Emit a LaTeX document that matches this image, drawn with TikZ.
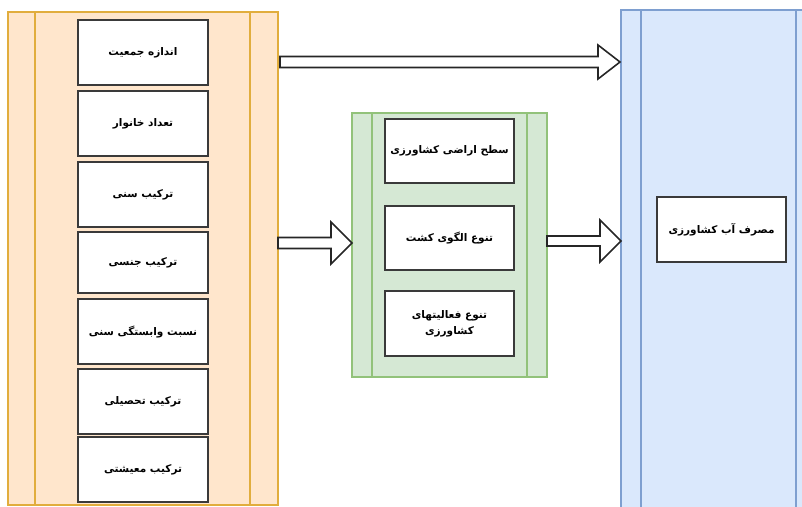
\documentclass[tikz,border=0pt]{standalone}
\usepackage{fontspec}
\newfontfamily\arabicfont[Script=Arabic]{DejaVu Sans}
\TeXXeTstate=1
\usetikzlibrary{calc}
\definecolor{orfill}{HTML}{FFE6CC}
\definecolor{ordraw}{HTML}{E1AD3D}
\definecolor{grfill}{HTML}{D5E8D4}
\definecolor{grdraw}{HTML}{92C27A}
\definecolor{blfill}{HTML}{DAE8FC}
\definecolor{bldraw}{HTML}{7E9FD0}
\definecolor{boxdraw}{HTML}{3A3A3A}
\newcommand\fa[1]{\beginR #1\endR}
\newcommand\blockarrow[5]{%
  \draw[barrow] ($(#1)+(0,-#3)$) -- ($(#2)+(-#5,-#3)$) -- ($(#2)+(-#5,-#4)$) -- (#2)
     -- ($(#2)+(-#5,#4)$) -- ($(#2)+(-#5,#3)$) -- ($(#1)+(0,#3)$) -- cycle;}
\begin{document}
\begin{tikzpicture}[x=1pt,y=-1pt,
  container/.style={draw=#1draw, fill=#1fill, line width=1.3pt, anchor=north west, inner sep=0pt, outer sep=0pt},
  lane/.style={draw=#1draw, line width=1.3pt},
  itembox/.style={draw=boxdraw, line width=1.6pt, fill=white, anchor=north west, inner sep=0pt, outer sep=0pt,
    minimum width=130pt, minimum height=65pt, align=center,
    font=\arabicfont\bfseries\fontsize{10.5}{16}\selectfont},
  barrow/.style={draw=black!85, line width=1.6pt, fill=white, line join=miter}]
\useasboundingbox (0,0) rectangle (802,506);
\clip (0,0) rectangle (802,506);
% containers
\node[container=or, minimum width=270pt, minimum height=493pt] (orange) at (8,12) {};
\draw[lane=or] ($(orange.north west)+(27,0)$) -- ($(orange.south west)+(27,0)$);
\draw[lane=or] ($(orange.north east)+(-28,0)$) -- ($(orange.south east)+(-28,0)$);
\node[container=gr, minimum width=195pt, minimum height=264pt] (green) at (352,113) {};
\draw[lane=gr] ($(green.north west)+(20,0)$) -- ($(green.south west)+(20,0)$);
\draw[lane=gr] ($(green.north east)+(-20,0)$) -- ($(green.south east)+(-20,0)$);
\node[container=bl, minimum width=200pt, minimum height=510pt] (blue) at (621,10) {};
\draw[lane=bl] ($(blue.north west)+(20,0)$) -- ($(blue.south west)+(20,0)$);
\draw[lane=bl] ($(blue.north west)+(175,0)$) -- ($(blue.south west)+(175,0)$);
% arrows
\coordinate (a1s) at ($(orange.north east)+(2,50)$);
\coordinate (a1t) at ($(blue.west |- a1s)+(-1,0)$);
\blockarrow{a1s}{a1t}{5.5}{17}{22}
\coordinate (a2s) at ($(orange.north east)+(0,231)$);
\coordinate (a2t) at (green.west |- a2s);
\blockarrow{a2s}{a2t}{5.5}{21}{21}
\coordinate (a3s) at ($(green.north east)+(0,128)$);
\coordinate (a3t) at (blue.west |- a3s);
\blockarrow{a3s}{a3t}{5}{21}{21}
% orange items
\node[itembox] (o1) at (78,20) {\fa{اندازه جمعیت}};
\node[itembox] (o2) at (78,91) {\fa{تعداد خانوار}};
\node[itembox] (o3) at (78,162) {\fa{ترکیب سنی}};
\node[itembox, minimum height=61pt] (o4) at (78,232) {\fa{ترکیب جنسی}};
\node[itembox] (o5) at (78,299) {\fa{نسبت وابستگی سنی}};
\node[itembox] (o6) at (78,369) {\fa{ترکیب تحصیلی}};
\node[itembox] (o7) at (78,437) {\fa{ترکیب معیشتی}};
% green items
\node[itembox, minimum width=129pt, minimum height=64pt] (g1) at (385,119) {\fa{سطح اراضی کشاورزی}};
\node[itembox, minimum width=129pt, minimum height=64pt] (g2) at (385,206) {\fa{تنوع الگوی کشت}};
\node[itembox, minimum width=129pt, minimum height=65pt] (g3) at (385,291) {\fa{تنوع فعالیتهای}\\\fa{کشاورزی}};
% blue item
\node[itembox, minimum width=129pt, minimum height=65pt] (b1) at (657,197) {\fa{مصرف آب کشاورزی}};
\end{tikzpicture}
\end{document}
